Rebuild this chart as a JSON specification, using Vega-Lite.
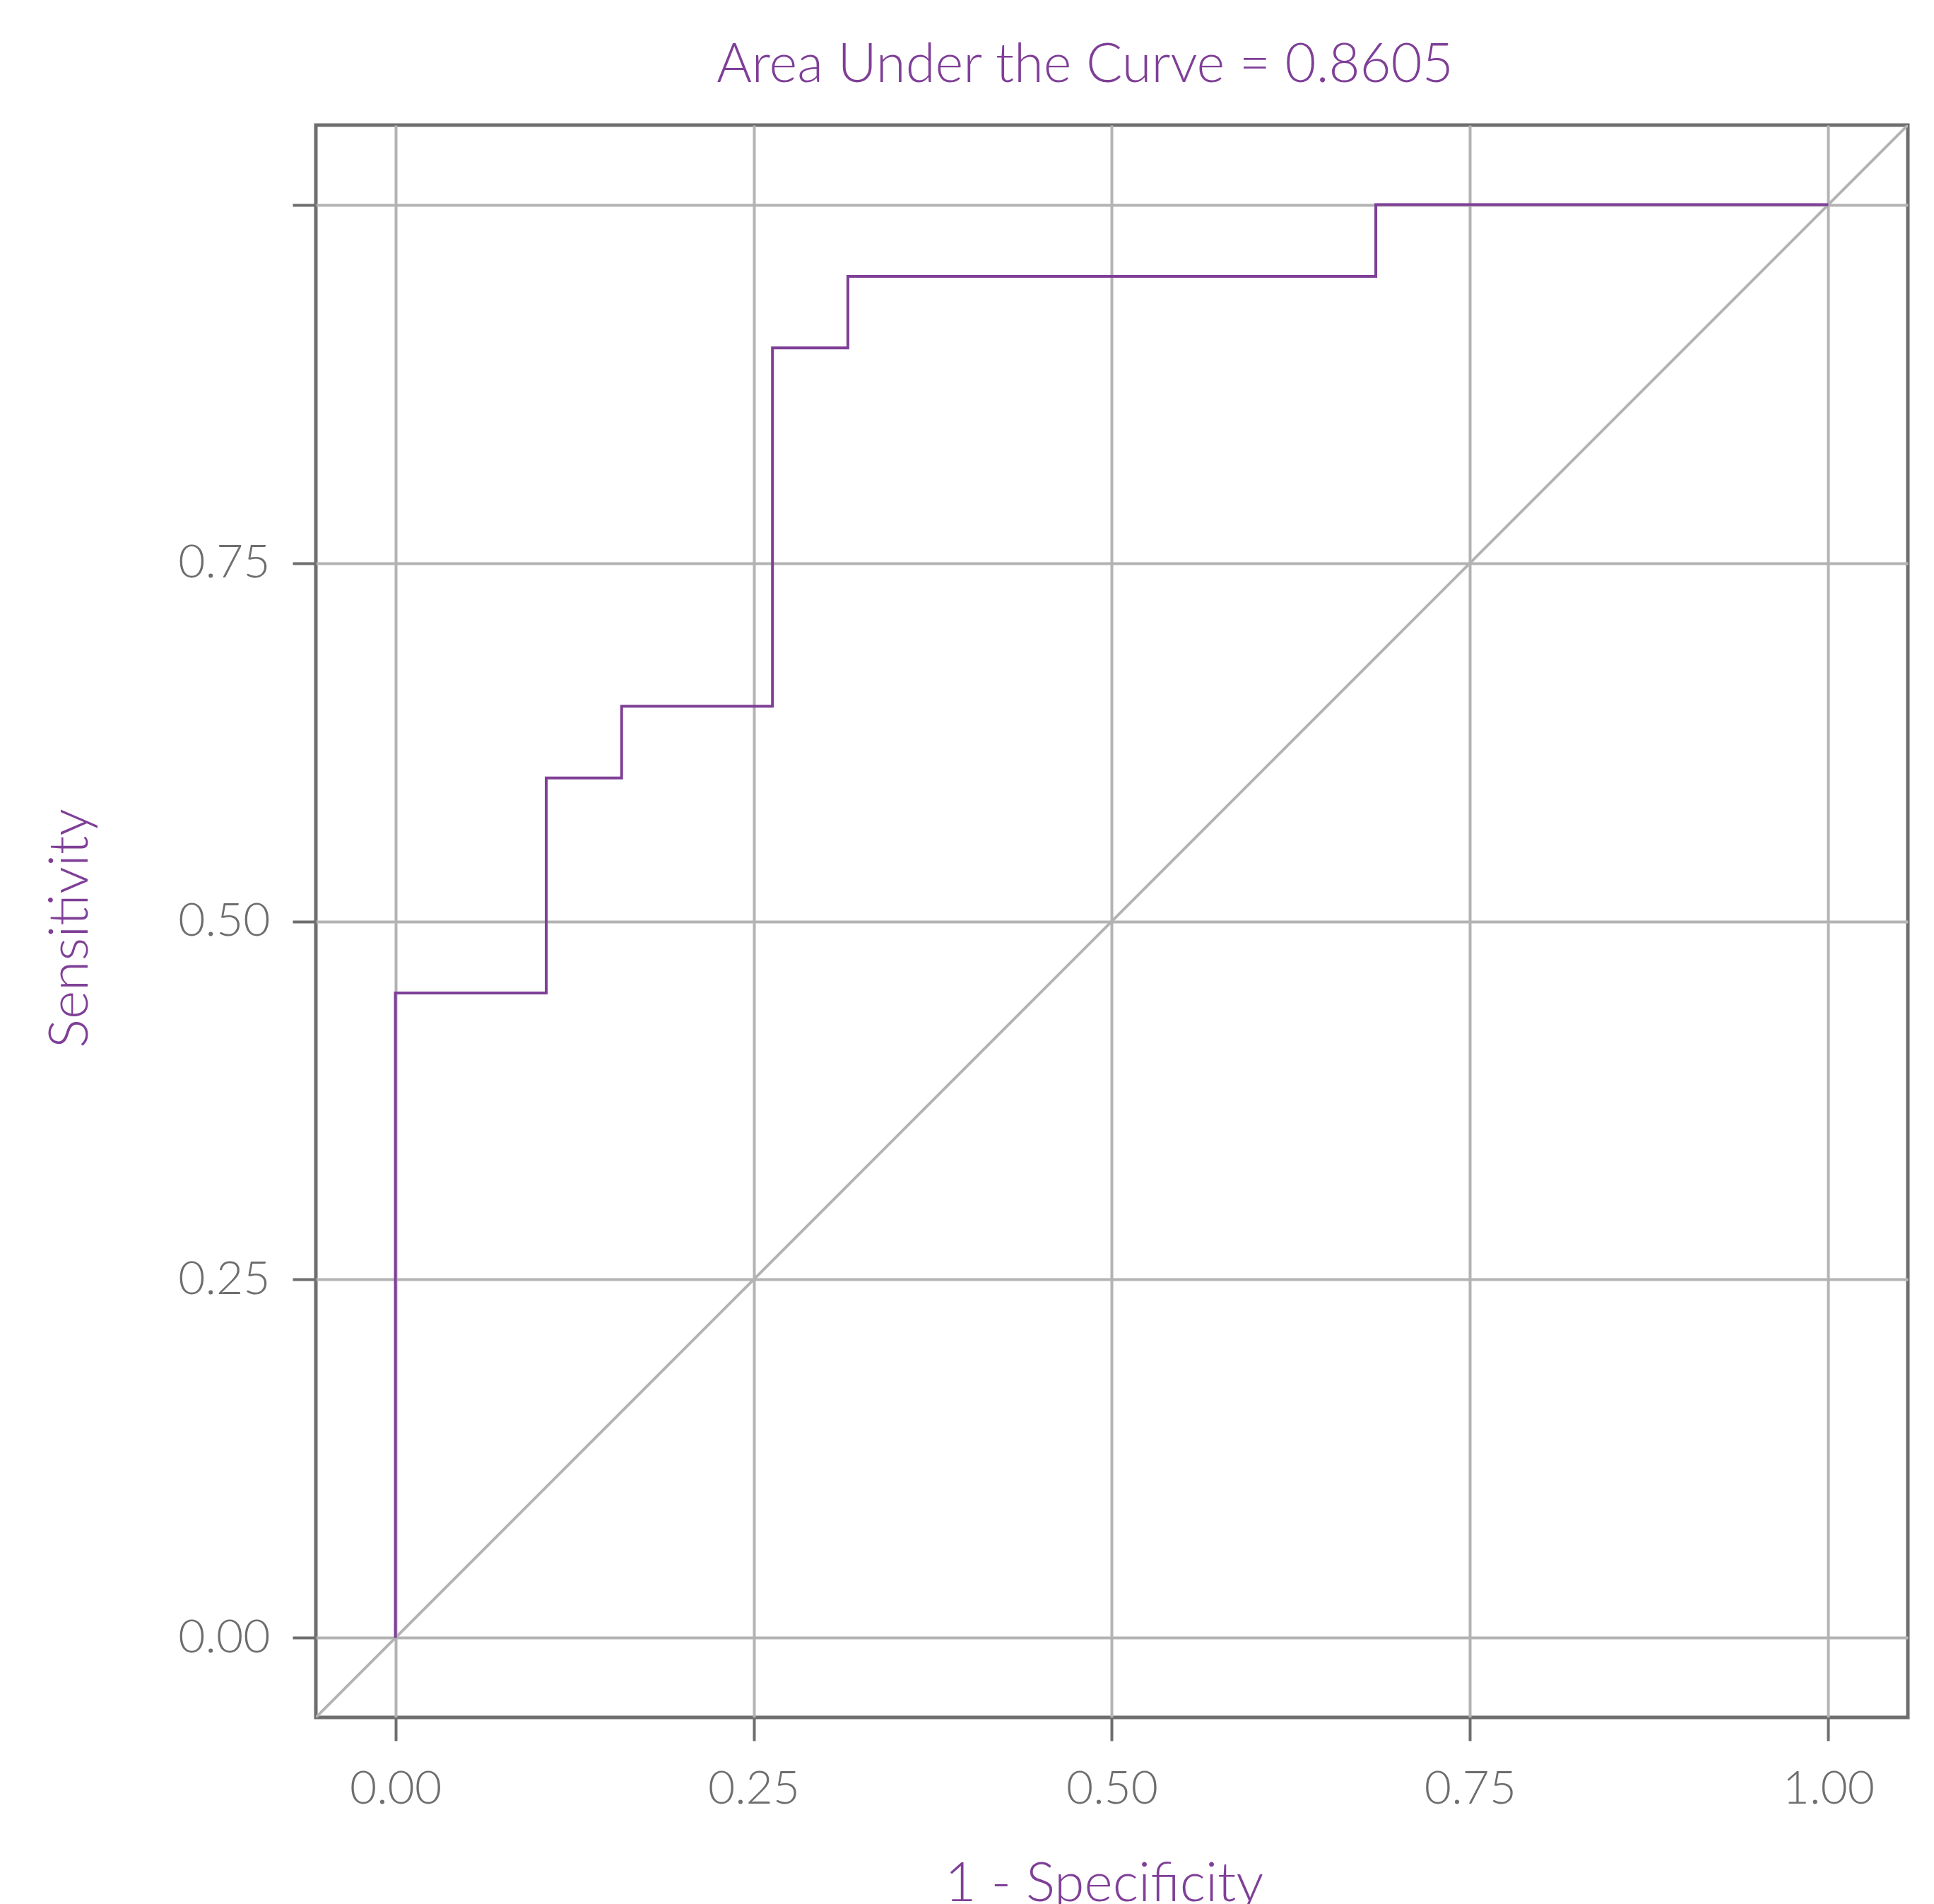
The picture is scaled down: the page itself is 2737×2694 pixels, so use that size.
{
  "$schema": "https://vega.github.io/schema/vega-lite/v6.json",
  "width": 2253,
  "height": 2253,
  "autosize": {"type": "none"},
  "padding": {"left": 447, "top": 177, "right": 37, "bottom": 264},
  "background": "white",
  "title": {
    "text": "Area Under the Curve = 0.8605",
    "anchor": "middle",
    "dx": -38,
    "baseline": "alphabetic",
    "offset": -15,
    "font": "Lato",
    "fontWeight": 300,
    "fontSize": 76,
    "color": "#7f3f97"
  },
  "config": {
    "view": {"stroke": "#6e6e6e", "strokeWidth": 5},
    "axis": {
      "grid": true,
      "gridColor": "#b3b3b3",
      "gridWidth": 4,
      "domain": false,
      "tickColor": "#6e6e6e",
      "tickWidth": 4,
      "tickSize": 33,
      "labelFont": "Lato",
      "labelFontWeight": 300,
      "labelFontSize": 66,
      "labelColor": "#6e6e6e",
      "titleFont": "Lato",
      "titleFontWeight": 300,
      "titleFontSize": 77,
      "titleColor": "#7f3f97"
    }
  },
  "datasets": {
    "roc": [
      {"i": 0, "fpr": 0, "tpr": 0},
      {"i": 1, "fpr": 0, "tpr": 0.45},
      {"i": 2, "fpr": 0.10526, "tpr": 0.45},
      {"i": 3, "fpr": 0.10526, "tpr": 0.6},
      {"i": 4, "fpr": 0.15789, "tpr": 0.6},
      {"i": 5, "fpr": 0.15789, "tpr": 0.65},
      {"i": 6, "fpr": 0.26316, "tpr": 0.65},
      {"i": 7, "fpr": 0.26316, "tpr": 0.9},
      {"i": 8, "fpr": 0.31579, "tpr": 0.9},
      {"i": 9, "fpr": 0.31579, "tpr": 0.95},
      {"i": 10, "fpr": 0.68421, "tpr": 0.95},
      {"i": 11, "fpr": 0.68421, "tpr": 1},
      {"i": 12, "fpr": 1, "tpr": 1}
    ],
    "diag": [
      {"i": 0, "fpr": -0.2, "tpr": -0.2},
      {"i": 1, "fpr": 1.2, "tpr": 1.2}
    ]
  },
  "encoding": {
    "x": {
      "field": "fpr",
      "type": "quantitative",
      "scale": {"domain": [-0.0555, 1.0555], "nice": false, "zero": false},
      "axis": {
        "values": [0, 0.25, 0.5, 0.75, 1],
        "format": ".2f",
        "labelPadding": 36,
        "title": "1 - Specificity",
        "titleX": 1115,
        "titleY": 259,
        "titleBaseline": "alphabetic"
      }
    },
    "y": {
      "field": "tpr",
      "type": "quantitative",
      "scale": {"domain": [-0.0555, 1.0555], "nice": false, "zero": false},
      "axis": {
        "values": [0, 0.25, 0.5, 0.75, 1],
        "labelExpr": "datum.value >= 1 ? '' : format(datum.value, '.2f')",
        "labelPadding": 32,
        "title": "Sensitivity",
        "titleX": -324,
        "titleY": 1136,
        "titleBaseline": "alphabetic",
        "titleAngle": -90
      }
    },
    "order": {"field": "i", "type": "quantitative"}
  },
  "layer": [
    {
      "data": {"name": "diag"},
      "mark": {"type": "line", "color": "#b3b3b3", "strokeWidth": 4, "clip": true}
    },
    {
      "data": {"name": "roc"},
      "mark": {"type": "line", "color": "#7f3f97", "strokeWidth": 4, "clip": true}
    }
  ]
}
